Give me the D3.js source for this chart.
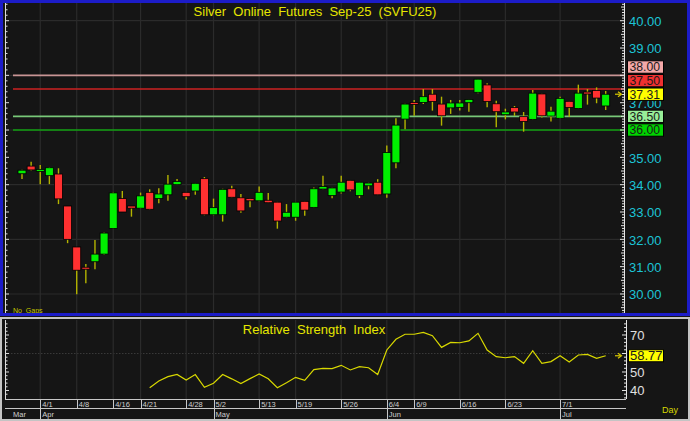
<!DOCTYPE html>
<html><head><meta charset="utf-8">
<script src="https://cdn.jsdelivr.net/npm/d3@7"></script>
<style>
body{margin:0;background:#151515;}
svg{display:block;}
text{font-family:"Liberation Sans",Arial,sans-serif;}
</style>
</head><body>
<svg id="chart" width="690" height="421"></svg>
<script>
// ---------- DATA ----------
const title = "Silver  Online  Futures  Sep-25  (SVFU25)";
const rsiTitle = "Relative  Strength  Index";
const openVals  = [34.40,34.68,34.52,34.33,34.39,33.22,31.72,30.98,31.18,31.46,32.40,33.49,33.22,33.14,33.72,33.49,33.63,34.00,33.72,33.77,34.22,32.90,32.90,33.85,33.52,33.49,33.41,33.43,33.36,32.81,32.81,33.39,33.17,33.84,33.60,33.73,34.16,33.60,33.96,34.09,33.66,34.80,36.40,37.01,37.01,37.31,36.95,36.81,36.83,37.00,37.38,37.65,36.96,36.56,36.82,36.49,36.39,37.32,36.51,36.43,37.05,36.79,37.39,37.45,36.88];
const highVals  = [34.55,34.84,34.72,34.64,34.60,33.22,31.72,31.10,31.98,32.25,33.72,33.77,33.22,33.71,33.83,33.87,34.35,34.21,33.73,34.06,34.28,33.49,33.85,33.96,33.66,33.50,33.93,33.70,33.37,33.29,33.37,33.40,33.90,34.33,33.89,34.33,34.17,34.10,34.07,34.20,35.43,36.43,36.96,37.10,37.50,37.50,37.22,37.10,37.10,37.13,37.87,37.71,37.07,36.78,36.88,36.66,37.46,37.33,36.85,37.22,37.06,37.66,37.50,37.56,37.43];
const lowVals   = [34.21,34.52,34.02,34.02,33.29,31.86,29.99,30.39,30.91,31.44,32.38,33.00,32.83,33.12,33.08,33.32,33.41,33.99,33.46,33.63,32.88,32.88,32.65,33.53,32.97,33.17,33.39,33.33,32.39,32.80,32.68,32.86,33.16,33.83,33.50,33.68,33.76,33.51,33.83,33.62,33.52,34.60,36.03,36.52,36.95,36.71,36.16,36.59,36.71,36.67,37.35,36.83,36.10,36.39,36.52,35.94,36.37,36.46,36.31,36.40,36.49,36.77,36.93,36.98,36.73];
const closeVals = [34.53,34.54,34.56,34.62,33.48,32.00,30.87,30.94,31.46,32.23,33.70,33.00,33.14,33.59,33.10,33.66,34.02,34.12,33.56,34.05,32.90,33.16,33.83,33.54,33.04,33.41,33.72,33.34,32.67,32.99,33.36,33.07,33.85,33.93,33.88,34.09,33.81,34.09,34.06,33.63,35.18,36.18,36.95,36.96,37.22,37.04,36.52,36.99,36.99,37.12,37.86,37.04,36.67,36.66,36.66,36.31,37.35,36.52,36.69,37.16,36.82,37.35,37.33,37.17,37.31];
// RSI values begin at bar 14
const rsiStart = 14;
const rsiVals = [41.5,45.1,47.5,48.7,45.7,48.6,41.7,43.9,48.6,46.3,43.7,46.4,48.9,46.3,41.5,44.2,47.1,45.5,51.3,52.0,51.8,53.6,51.1,52.9,52.3,48.6,61.9,67.7,70.4,70.4,71.4,69.6,63.3,66.0,65.8,66.8,70.9,61.9,58.3,57.7,58.3,54.7,61.5,54.7,55.6,58.8,55.4,59.2,59.5,57.4,58.77];
const dateTickBars   = [2,6,10,13,18,21,26,30,35,40,43,48,53,59];
const dateTickLabels = ["4/1","4/8","4/16","4/21","4/28","5/2","5/13","5/19","5/26","6/4","6/9","6/16","6/23","7/1"];
const monthBars   = [null,2,21,40,59];
const monthLabels = ["Mar","Apr","May","Jun","Jul"];
const priceTicks = [30,31,32,33,34,35,36,37,38,39,40];
const priceGrid  = [30,32,34,36,38,40];
const levelVals   = [38.00,37.50,36.50,36.00];
const levelLines  = ["#c89494","#cc2222","#78c878","#12a012"];
const levelBoxes  = ["#f4a8a8","#f03030","#98ee98","#00d400"];
const rsiTicks = [40,50,60,70];
const lastPrice = 37.31;
const lastRsi = 58.77;

// ---------- LAYOUT ----------
const svg = d3.select("#chart");
const W = 690, H = 421;
const bg = "#151515", gridC = "#2b2b2b";
const plotL = 5, plotR = 624;
const mainTop = 3, mainBot = 314;
const rsiTop = 320, rsiBot = 399;
const nBars = openVals.length;

const x = d3.scaleLinear().domain([0, nBars-1]).range([22, 605.7]);
const y = d3.scaleLinear().domain([29.268, 40.648]).range([mainBot, mainTop]);
const yr = d3.scaleLinear().domain([35.4, 78.1]).range([rsiBot, rsiTop]);

svg.append("rect").attr("width",W).attr("height",H).attr("fill",bg);

// ---------- MAIN PANEL ----------
const g = svg.append("g");
g.selectAll(".hg").data(priceGrid).join("line")
  .attr("x1",plotL).attr("x2",plotR).attr("y1",d=>y(d)).attr("y2",d=>y(d))
  .attr("stroke",gridC).attr("stroke-width",1.2);
g.selectAll(".vg").data(dateTickBars).join("line")
  .attr("x1",d=>x(d)).attr("x2",d=>x(d)).attr("y1",mainTop).attr("y2",mainBot)
  .attr("stroke",gridC).attr("stroke-width",1.2);

levelVals.forEach((v,i)=>{
  g.append("line").attr("x1",13).attr("x2",plotR).attr("y1",y(v)).attr("y2",y(v))
   .attr("stroke",levelLines[i]).attr("stroke-width",1.6);
});

const bars = d3.range(nBars).map(i=>({i,o:openVals[i],h:highVals[i],l:lowVals[i],c:closeVals[i]}));
g.selectAll(".wick").data(bars).join("line")
  .attr("x1",d=>x(d.i)).attr("x2",d=>x(d.i))
  .attr("y1",d=>y(d.h)).attr("y2",d=>y(d.l))
  .attr("stroke","#b4b400").attr("stroke-width",1.4);
g.selectAll(".body").data(bars).join("rect")
  .attr("x",d=>x(d.i)-4).attr("width",8)
  .attr("y",d=>y(Math.max(d.o,d.c)))
  .attr("height",d=>Math.max(2, Math.abs(y(d.o)-y(d.c))))
  .attr("fill",d=>d.c>=d.o?"#00f000":"#ff3030")
  .attr("stroke","#000").attr("stroke-width",0.8);

g.append("line").attr("x1",plotL+0.5).attr("x2",plotL+0.5).attr("y1",mainTop).attr("y2",mainBot).attr("stroke","#dcdcdc");
d3.range(29.4, 40.61, 0.2).forEach(v=>{
  const major = Math.abs(v-Math.round(v))<0.01;
  g.append("line").attr("x1",plotL).attr("x2",plotL+(major?4:2.5))
   .attr("y1",y(v)).attr("y2",y(v)).attr("stroke","#dcdcdc");
});
g.append("line").attr("x1",plotR+0.5).attr("x2",plotR+0.5).attr("y1",mainTop).attr("y2",mainBot).attr("stroke","#e6e6e6");
d3.range(29.3, 40.61, 0.1).forEach(v=>{
  const r = Math.round(v*10)/10;
  const major = Math.abs(r-Math.round(r))<0.01;
  const half = Math.abs(r*2-Math.round(r*2))<0.01;
  g.append("line").attr("x1",plotR-(major?4:half?3:2)).attr("x2",plotR)
   .attr("y1",y(r)).attr("y2",y(r)).attr("stroke","#e6e6e6");
});
g.selectAll(".pl").data(priceTicks.filter(v=>!levelVals.includes(v))).join("text")
  .attr("x",629).attr("y",d=>y(d)+0.6).attr("dy","0.36em")
  .attr("font-size",13).attr("fill","#1cc4d6").text(d=>d.toFixed(2));

// highlighted labels with stacking
const boxes = levelVals.map((v,i)=>({v,fill:levelBoxes[i]}));
boxes.push({v:lastPrice,fill:"#ffff00",anchor:true});
const anchorY = y(lastPrice);
const above = boxes.filter(b=>b.v>lastPrice).sort((a,b)=>a.v-b.v);
const below = boxes.filter(b=>b.v<lastPrice).sort((a,b)=>b.v-a.v);
boxes.find(b=>b.anchor).py = anchorY;
const gap = 13.6;
let prev = anchorY;
above.forEach(b=>{ b.py = Math.min(y(b.v), prev-gap); prev=b.py; });
prev = anchorY;
below.forEach(b=>{ b.py = Math.max(y(b.v), prev+gap); prev=b.py; });
boxes.forEach(b=>{
  g.append("rect").attr("x",627.5).attr("y",b.py-6.2).attr("width",36).attr("height",12.4)
    .attr("fill",b.fill).attr("stroke","#000").attr("stroke-width",1);
  g.append("text").attr("x",629.5).attr("y",b.py).attr("dy","0.36em")
    .attr("font-size",12.2).attr("fill","#1a1a1a").text(b.v.toFixed(2));
});
function arrow(sel, yy){
  sel.append("line").attr("x1",615).attr("x2",621).attr("y1",yy).attr("y2",yy).attr("stroke","#d8c800").attr("stroke-width",1.2);
  sel.append("path").attr("d",`M618,${yy-2.5}L621.5,${yy}L618,${yy+2.5}`).attr("fill","none").attr("stroke","#d8c800").attr("stroke-width",1.2);
}
arrow(g, y(lastPrice));

g.append("text").attr("x",315).attr("y",16).attr("text-anchor","middle")
  .attr("font-size",13).attr("fill","#e6e600").style("white-space","pre").text(title);
g.append("text").attr("x",13).attr("y",313).attr("font-size",7)
  .attr("fill","#c8c800").style("white-space","pre").text("No  Gaps");

svg.append("rect").attr("x",1.5).attr("y",1.5).attr("width",W-3).attr("height",313)
  .attr("fill","none").attr("stroke","#1c1cc8").attr("stroke-width",3);

// ---------- RSI PANEL ----------
const r = svg.append("g");
r.append("line").attr("x1",plotL).attr("x2",plotR).attr("y1",yr(60)).attr("y2",yr(60))
  .attr("stroke","#3a3a3a").attr("stroke-dasharray","1.5,1.5");
r.selectAll(".vg").data(dateTickBars).join("line")
  .attr("x1",d=>x(d)).attr("x2",d=>x(d)).attr("y1",rsiTop).attr("y2",rsiBot)
  .attr("stroke",gridC).attr("stroke-width",1.2);
const rsiData = rsiVals.map((v,k)=>({i:k+rsiStart,v}));
r.append("path").datum(rsiData)
  .attr("d",d3.line().x(d=>x(d.i)).y(d=>yr(d.v)))
  .attr("fill","none").attr("stroke","#d8d800").attr("stroke-width",1.2);
r.append("line").attr("x1",plotL+0.5).attr("x2",plotL+0.5).attr("y1",rsiTop).attr("y2",rsiBot).attr("stroke","#dcdcdc");
d3.range(38,78,2).forEach(v=>{
  const major = v%10===0;
  r.append("line").attr("x1",plotL).attr("x2",plotL+(major?4:2.5)).attr("y1",yr(v)).attr("y2",yr(v)).attr("stroke","#dcdcdc");
});
const rAx = 626;
r.append("line").attr("x1",rAx+0.5).attr("x2",rAx+0.5).attr("y1",rsiTop).attr("y2",rsiBot).attr("stroke","#e6e6e6");
d3.range(36,78,2).forEach(v=>{
  const major = v%10===0;
  r.append("line").attr("x1",rAx-(major?4:2)).attr("x2",rAx).attr("y1",yr(v)).attr("y2",yr(v)).attr("stroke","#e6e6e6");
});
r.selectAll(".rl").data(rsiTicks.filter(v=>Math.abs(yr(v)-yr(lastRsi))>10)).join("text")
  .attr("x",630).attr("y",d=>yr(d)).attr("dy","0.36em")
  .attr("font-size",13).attr("fill","#e0e0e0").text(d=>d);
r.append("rect").attr("x",628.5).attr("y",yr(lastRsi)-6).attr("width",35).attr("height",12)
  .attr("fill","#ffff00").attr("stroke","#000");
r.append("text").attr("x",630).attr("y",yr(lastRsi)).attr("dy","0.36em")
  .attr("font-size",13).attr("fill","#1a1a1a").text(lastRsi.toFixed(2));
arrow(r, yr(lastRsi));
r.append("text").attr("x",314).attr("y",334).attr("text-anchor","middle")
  .attr("font-size",13).attr("fill","#e6e600").style("white-space","pre").text(rsiTitle);

// date axis
const ax = svg.append("g");
const axC = "#c8c8c8";
ax.append("line").attr("x1",plotL).attr("x2",rAx).attr("y1",rsiBot+0.5).attr("y2",rsiBot+0.5).attr("stroke",axC);
ax.append("line").attr("x1",plotL).attr("x2",rAx).attr("y1",408.5).attr("y2",408.5).attr("stroke",axC);
ax.selectAll(".dt").data(dateTickBars).join("line")
  .attr("x1",d=>Math.round(x(d))+0.5).attr("x2",d=>Math.round(x(d))+0.5)
  .attr("y1",rsiBot).attr("y2",408.5).attr("stroke",axC);
ax.selectAll(".dl").data(dateTickBars).join("text")
  .attr("x",d=>x(d)+2).attr("y",407).attr("font-size",7.5).attr("fill","#d0d0d0")
  .text((d,i)=>dateTickLabels[i]);
ax.selectAll(".md").data(monthBars.filter(d=>d!==null)).join("line")
  .attr("x1",d=>Math.round(x(d))+0.5).attr("x2",d=>Math.round(x(d))+0.5)
  .attr("y1",408.5).attr("y2",419).attr("stroke",axC);
ax.selectAll(".ml").data(monthBars).join("text")
  .attr("x",d=>d===null?13:x(d)+2).attr("y",416.5).attr("font-size",7.5).attr("fill","#d0d0d0")
  .text((d,i)=>monthLabels[i]);
ax.append("text").attr("x",662).attr("y",413).attr("font-size",9).attr("fill","#d8d800").text("Day");

svg.append("rect").attr("x",1).attr("y",318).attr("width",W-2).attr("height",H-319)
  .attr("fill","none").attr("stroke","#c4c4c4").attr("stroke-width",2);
</script>
</body></html>
